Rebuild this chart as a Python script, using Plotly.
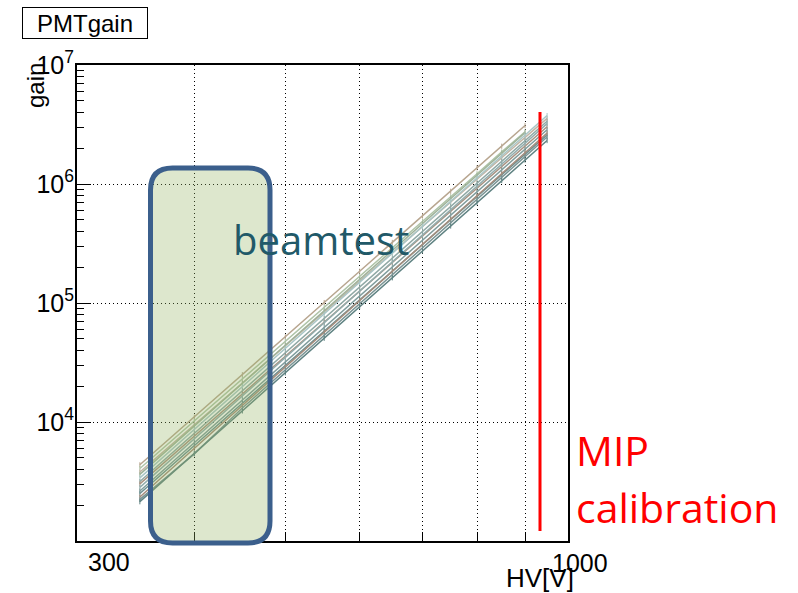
import math
import plotly.graph_objects as go

# ---------------- data ----------------
hv = [350, 400, 450, 500, 550, 600, 650, 700, 750, 800, 850, 900, 950]

gain_01 = [4370, 11000, 25000, 52000, 101000, 185000, 323000, 540000, 870000, 1370000, 2080000, 3100000]
gain_02 = [4070, 10200, 23100, 47800, 92000, 168000, 292000, 486000, 783000, 1220000, 1860000, 2750000]
gain_03 = [3800, 9480, 21200, 43800, 84100, 153000, 264000, 439000, 703000, 1090000, 1660000, 2450000, 3560000]
gain_04 = [3630, 9250, 21100, 44100, 85900, 158000, 277000, 465000, 753000, 1180000, 1810000, 2700000]
gain_05 = [3390, 8650, 19800, 41400, 80900, 149000, 262000, 440000, 714000, 1120000, 1720000, 2570000, 3760000]
gain_06 = [3160, 8040, 18300, 38100, 74100, 136000, 238000, 399000, 646000, 1010000, 1550000, 2310000, 3370000]
gain_07 = [3020, 7600, 17200, 35700, 68900, 126000, 219000, 366000, 590000, 920000, 1400000, 2080000, 3030000]
gain_08 = [2820, 7230, 16600, 34800, 68200, 126000, 222000, 373000, 608000, 957000, 1470000, 2200000, 3220000]
gain_09 = [2630, 6700, 15300, 31900, 62200, 115000, 200000, 337000, 546000, 857000, 1310000, 1950000, 2860000]
gain_10 = [2510, 6350, 14400, 30000, 58100, 106000, 186000, 310000, 501000, 785000, 1200000, 1780000, 2590000]
gain_11 = [2340, 6010, 13800, 29000, 56800, 105000, 185000, 311000, 506000, 796000, 1220000, 1830000, 2680000]
gain_12 = [2240, 5400, 13100, 27400, 53500, 98400, 173000, 290000, 472000, 741000, 1140000, 1700000, 2480000]
gain_13 = [2140, 5450, 12400, 25900, 50600, 93100, 163000, 274000, 444000, 697000, 1070000, 1590000, 2320000]

series = [gain_01, gain_02, gain_03, gain_04, gain_05, gain_06, gain_07,
          gain_08, gain_09, gain_10, gain_11, gain_12, gain_13]

line_colors = ["#b8a690", "#b0c4a8", "#c2b4a4", "#9fb39a", "#a9c6c6", "#8fa8a4", "#a89282",
               "#93adad", "#7f9c9c", "#6e8f90", "#a48c7c", "#7a9494", "#5f8282"]

x_ticks = [400, 500, 600, 700, 800, 900]
x_label_vals = [300, 1000]
y_ticks = [1e3, 1e4, 1e5, 1e6, 1e7]
y_ticktext = ["", "10<sup>4</sup>", "10<sup>5</sup>", "10<sup>6</sup>", "10<sup>7</sup>"]
y_minor = [m * 10 ** e for e in range(3, 7) for m in range(2, 10)]

# ---------------- figure ----------------
fig = go.Figure()
for g, c in zip(series, line_colors):
    fig.add_trace(go.Scatter(
        x=hv[:len(g)], y=g, mode="lines",
        line=dict(color=c, width=1.5),
        error_y=dict(type="percent", value=5, thickness=1, width=0, color=c),
        showlegend=False, hoverinfo="skip"))

W, H = 798, 593
L, R, T, B = 77, 230, 65, 52
pw, ph = W - L - R, H - T - B

def px(xp):
    return (xp - L) / pw

def py(yp):
    return (H - B - yp) / ph

axis_font = dict(family="Liberation Sans, Arial, sans-serif", size=25, color="black")

fig.update_layout(
    width=W, height=H,
    margin=dict(l=L, r=R, t=T, b=B, pad=0),
    paper_bgcolor="white", plot_bgcolor="white",
    xaxis=dict(type="log", range=[math.log10(300), 3],
               tickvals=x_ticks, showticklabels=False,
               ticks="inside", ticklen=9, tickcolor="black", tickwidth=1,
               showgrid=True, gridcolor="black", gridwidth=1, griddash="1px,3px",
               showline=True, linecolor="black", linewidth=2, mirror=True, zeroline=False),
    yaxis=dict(type="log", range=[3, 7],
               tickvals=y_ticks, ticktext=y_ticktext, tickfont=axis_font,
               ticks="inside", ticklen=14, tickcolor="black", tickwidth=1,
               ticklabelstandoff=-4,
               minor=dict(tickvals=y_minor, ticks="inside", ticklen=7, tickcolor="black", showgrid=False),
               showgrid=True, gridcolor="black", gridwidth=1, griddash="1px,3px",
               showline=True, linecolor="black", linewidth=2, mirror=True, zeroline=False),
)

# beamtest rounded box
x0, x1 = px(150.5), px(270)
yt, yb = py(168), py(543)
rx, ry = 22 / pw, 22 / ph
path = (f"M {x0+rx},{yt} L {x1-rx},{yt} Q {x1},{yt} {x1},{yt-ry} "
        f"L {x1},{yb+ry} Q {x1},{yb} {x1-rx},{yb} L {x0+rx},{yb} "
        f"Q {x0},{yb} {x0},{yb+ry} L {x0},{yt-ry} Q {x0},{yt} {x0+rx},{yt} Z")
fig.add_shape(type="path", path=path, xref="paper", yref="paper", layer="above",
              fillcolor="rgba(150,180,100,0.32)", line=dict(color="#3b5f8c", width=5))

# MIP calibration red line
fig.add_shape(type="line", xref="paper", yref="paper", layer="above",
              x0=px(540), x1=px(540), y0=py(112), y1=py(531),
              line=dict(color="#ff0000", width=3))

# x tick labels (ROOT style, offset)
fig.add_annotation(text=str(x_label_vals[0]), xref="paper", yref="paper", x=px(109), y=py(562),
                   showarrow=False, font=axis_font, xanchor="center", yanchor="middle")
fig.add_annotation(text=str(x_label_vals[1]), xref="paper", yref="paper", x=px(580), y=py(563),
                   showarrow=False, font=axis_font, xanchor="center", yanchor="middle")
# axis titles
fig.add_annotation(text="HV[V]", xref="paper", yref="paper", x=px(576), y=py(578),
                   showarrow=False, font=dict(family="Liberation Sans, Arial, sans-serif", size=26, color="black"),
                   xanchor="right", yanchor="middle")
fig.add_annotation(text="gain", xref="paper", yref="paper", x=px(36), y=py(86), textangle=-90,
                   showarrow=False, font=dict(family="Liberation Sans, Arial, sans-serif", size=24, color="black"),
                   xanchor="center", yanchor="middle")
# title box
fig.add_annotation(text="PMTgain", xref="paper", yref="paper", x=px(85), y=py(23),
                   showarrow=False, font=dict(family="Liberation Sans, Arial, sans-serif", size=24, color="black"),
                   xanchor="center", yanchor="middle", bordercolor="black", borderwidth=1,
                   bgcolor="white", width=122, height=28)
# overlay texts
fig.add_annotation(text="beamtest", xref="paper", yref="paper", x=px(321), y=py(239),
                   showarrow=False, font=dict(family="Open Sans, sans-serif", size=40, color="#215968"),
                   xanchor="center", yanchor="middle")
red_font = dict(family="Open Sans, sans-serif", size=41, color="#ff0000")
fig.add_annotation(text="MIP", xref="paper", yref="paper", x=px(574), y=py(450),
                   showarrow=False, font=red_font, xanchor="left", yanchor="middle")
fig.add_annotation(text="calibration", xref="paper", yref="paper", x=px(574), y=py(507),
                   showarrow=False, font=red_font, xanchor="left", yanchor="middle")

fig.write_html("out.html", config={"displayModeBar": False},
               post_script="document.body.style.margin='0';")
